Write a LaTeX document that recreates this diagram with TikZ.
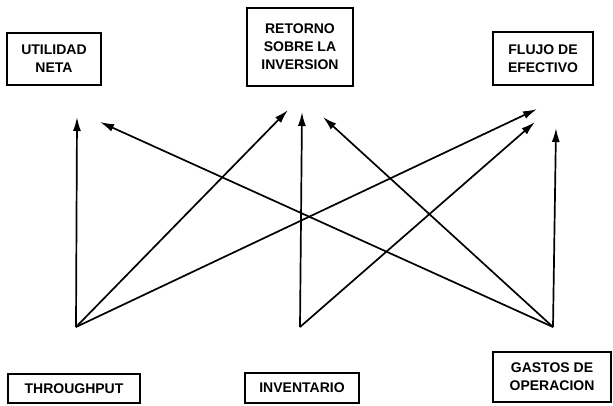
\documentclass[tikz,border=0pt]{standalone}
\usepackage{fontspec}
\setmainfont{Liberation Sans}
\usetikzlibrary{arrows.meta}
\begin{document}
\begin{tikzpicture}[x=1pt,y=-1pt,
  box/.style={draw,line width=1.1pt,inner sep=0pt,align=center,
    font=\fontsize{14}{18}\selectfont\bfseries},
  arr/.style={line width=1.7pt,-{Latex[length=14pt,width=8pt]}}]
\useasboundingbox (0,0) rectangle (613,405);
% top boxes
\node[box,minimum width=94pt,minimum height=52pt] (util) at (54,59) {UTILIDAD\\NETA};
\node[box,minimum width=106pt,minimum height=78pt] (ret) at (300,47) {RETORNO\\SOBRE LA\\INVERSION};
\node[box,minimum width=100pt,minimum height=53pt] (flujo) at (543,58.5) {FLUJO DE\\EFECTIVO};
% bottom boxes
\node[box,minimum width=132pt,minimum height=29pt] (thr) at (74,388.5) {THROUGHPUT};
\node[box,minimum width=114pt,minimum height=30pt] (inv) at (302,388) {INVENTARIO};
\node[box,minimum width=118pt,minimum height=50pt] (gas) at (552,377) {GASTOS DE\\OPERACION};
% arrow sources
\coordinate (sT) at (76,327);
\coordinate (sI) at (300,327);
\coordinate (sG) at (553,327);
% arrow tips
\coordinate (uA) at (77,117);
\coordinate (uB) at (100,122);
\coordinate (rA) at (288,110);
\coordinate (rB) at (302,112);
\coordinate (rC) at (323,117);
\coordinate (fA) at (537,109);
\coordinate (fB) at (535,122);
\coordinate (fC) at (556,128);
% arrows
\draw[arr] (sT) -- (uA);
\draw[arr] (sT) -- (rA);
\draw[arr] (sT) -- (fA);
\draw[arr] (sI) -- (rB);
\draw[arr] (sI) -- (fB);
\draw[arr] (sG) -- (uB);
\draw[arr] (sG) -- (rC);
\draw[arr] (sG) -- (fC);
\end{tikzpicture}
\end{document}
